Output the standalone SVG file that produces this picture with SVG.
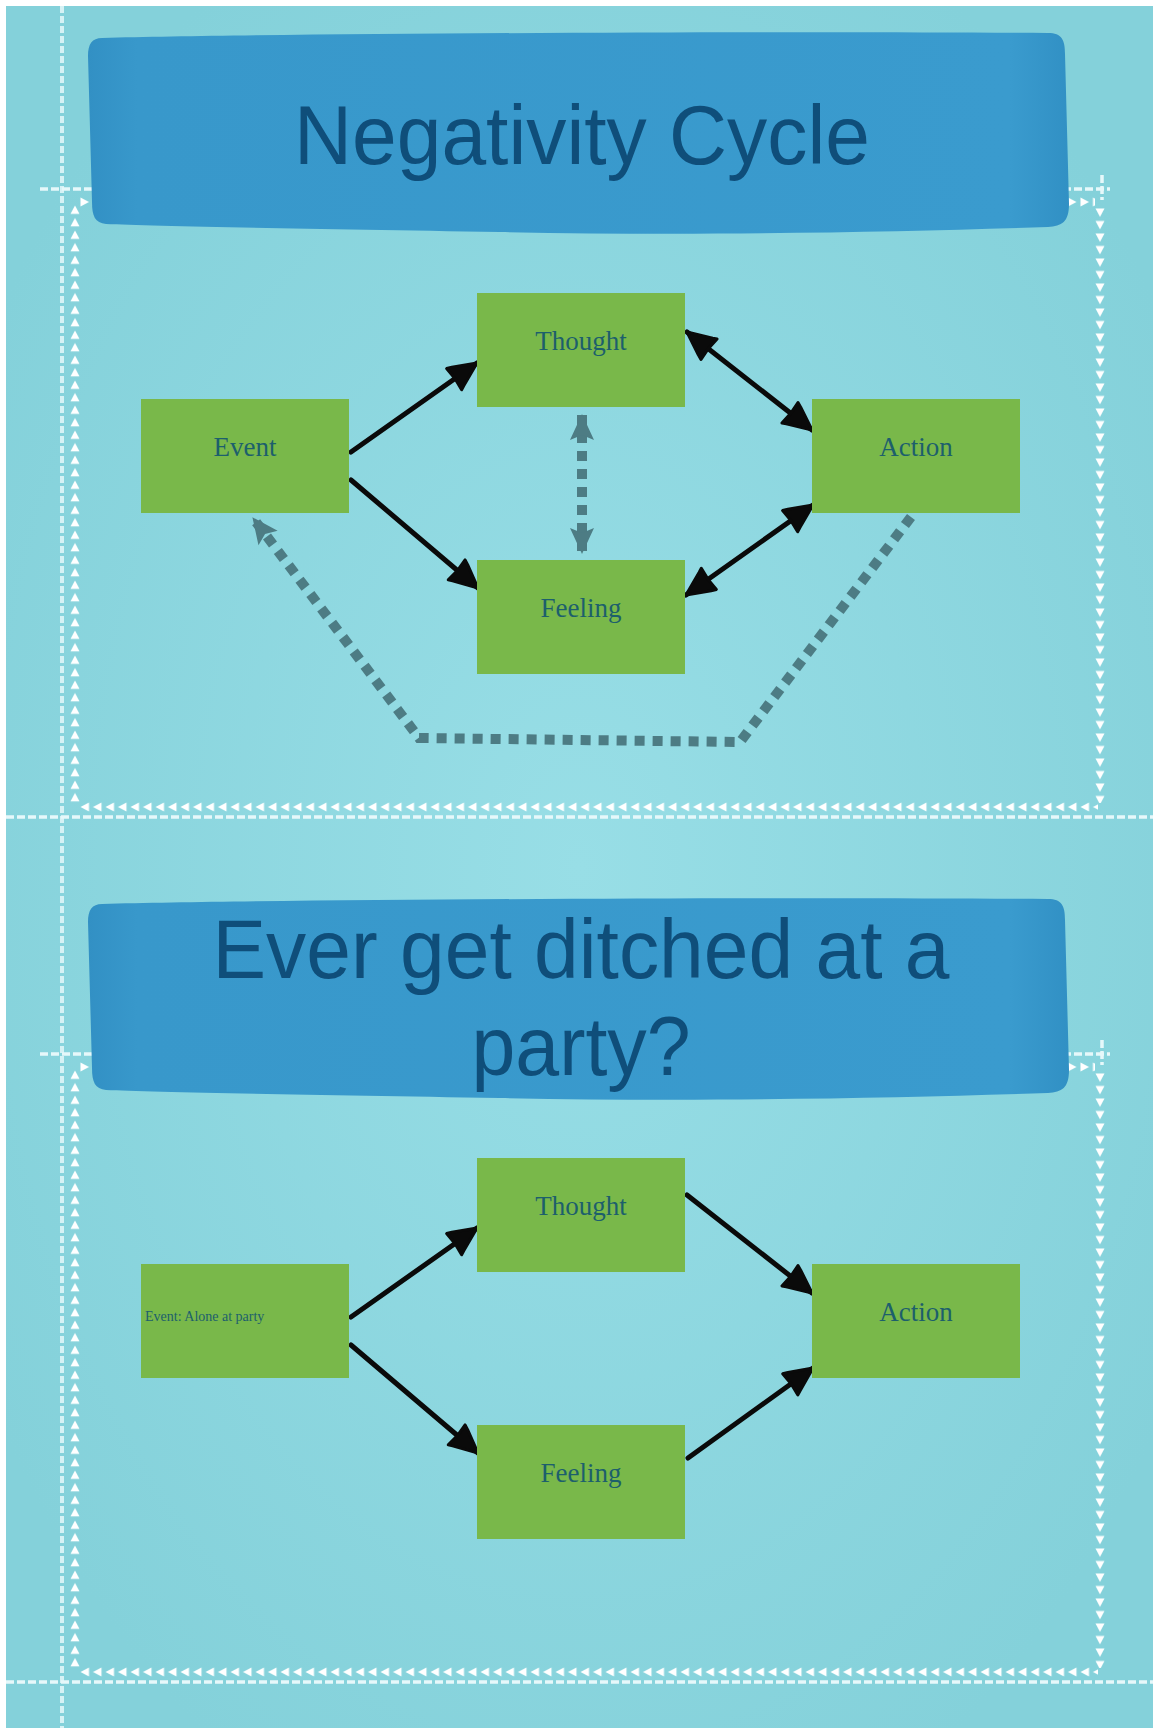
<svg xmlns="http://www.w3.org/2000/svg" xmlns:xlink="http://www.w3.org/1999/xlink" width="1153" height="1728" viewBox="0 0 1153 1728">
  <style>
    .node rect { fill: #79b84a; }
    .label { font-family: "Liberation Serif", "Times New Roman", serif; font-size: 27px; fill: #1d5f6c; text-anchor: middle; }
    .small { font-family: "Liberation Serif", "Times New Roman", serif; font-size: 14px; fill: #1d5f6c; }
    .title { font-family: "Liberation Sans", Arial, sans-serif; font-size: 84px; fill: #0f4e7a; text-anchor: middle; }
    .banner { fill: url(#bannerGrad); }
    .conn { fill: none; stroke: #0a0a0a; stroke-width: 5; stroke-linecap: round; }
    .dconn { fill: none; stroke: #4d7c84; stroke-width: 10; stroke-dasharray: 10 8; }
    .wdash { stroke: #e6f8fa; stroke-width: 3.5; stroke-dasharray: 8 3; fill: none; }
    .vdash { stroke: #d6f2f5; stroke-width: 4; stroke-dasharray: 7 3; fill: none; }
  </style>
  <defs>
    <radialGradient id="bgGrad" cx="0.5" cy="0.5" r="0.6">
      <stop offset="0" stop-color="#98dee6"/>
      <stop offset="1" stop-color="#84d1da"/>
    </radialGradient>
    <linearGradient id="bannerGrad" x1="0" y1="0" x2="1" y2="0">
      <stop offset="0" stop-color="#3290c4"/>
      <stop offset="0.05" stop-color="#3898cb"/>
      <stop offset="0.94" stop-color="#3a9bce"/>
      <stop offset="1" stop-color="#3190c4"/>
    </linearGradient>
    <pattern id="triL" patternUnits="userSpaceOnUse" x="80" y="802" width="12.5" height="10">
      <polygon points="0.5,5 9,0.5 9,9.5" fill="#ffffff"/>
    </pattern>
    <pattern id="triR" patternUnits="userSpaceOnUse" x="80" y="197" width="12.5" height="10">
      <polygon points="0.5,0.5 9,5 0.5,9.5" fill="#ffffff"/>
    </pattern>
    <pattern id="triU" patternUnits="userSpaceOnUse" x="70" y="205" width="10" height="12.5">
      <polygon points="5,0.5 9.5,9 0.5,9" fill="#ffffff"/>
    </pattern>
    <pattern id="triD" patternUnits="userSpaceOnUse" x="1095" y="208" width="10" height="12.5">
      <polygon points="0.5,0.5 9.5,0.5 5,9" fill="#ffffff"/>
    </pattern>
    <marker id="ah" markerUnits="userSpaceOnUse" viewBox="0 0 34 32" refX="31" refY="16" markerWidth="34" markerHeight="32" orient="auto-start-reverse">
      <path d="M3,3 L8,5 L31,16 L7,27 L3,29 L4,16 Z" fill="#0a0a0a" stroke="#0a0a0a" stroke-width="3" stroke-linejoin="round"/>
    </marker>
    <marker id="gh" markerUnits="userSpaceOnUse" viewBox="0 0 28 26" refX="26" refY="13" markerWidth="28" markerHeight="26" orient="auto-start-reverse">
      <path d="M1,1 L27,13 L1,25 L6,13 Z" fill="#4d7c84"/>
    </marker>
  </defs>

  <!-- background -->
  <rect x="0" y="0" width="1153" height="1728" fill="#ffffff"/>
  <rect x="6" y="6" width="1147" height="1722" fill="url(#bgGrad)"/>

  <!-- page guide lines -->
  <g id="guides">
    <line class="vdash" x1="62" y1="6" x2="62" y2="1728"/>
    <line class="wdash" x1="6" y1="817" x2="1153" y2="817"/>
    <line class="wdash" x1="6" y1="1682" x2="1153" y2="1682"/>
  </g>

  <!-- frames -->
  <g id="frame-1">
    <line class="wdash" x1="40" y1="189" x2="1110" y2="189"/>
    <line class="wdash" x1="1102" y1="175" x2="1102" y2="200"/>
    <rect x="80" y="197" width="1015" height="10" fill="url(#triR)"/>
    <rect x="70" y="205" width="10" height="598" fill="url(#triU)"/>
    <rect x="1095" y="208" width="10" height="595" fill="url(#triD)"/>
    <rect x="80" y="802" width="1018" height="10" fill="url(#triL)"/>
  </g>
  <use id="frame-2" href="#frame-1" transform="translate(0,865)"/>

  <!-- banners -->
  <g id="banner-1">
    <path class="banner" d="M102 38 C300 33 800 31 1048 33 C1062 33 1065 40 1065 54 L1069 204 C1069 222 1062 226 1048 227 C900 232 700 236 500 232 C300 229 150 226 106 224 C95 223 92 216 92 202 L88 56 C88 44 92 38 102 38 Z"/>
    <text class="title" x="582" y="164" textLength="576" lengthAdjust="spacingAndGlyphs">Negativity Cycle</text>
  </g>
  <g id="banner-2">
    <path class="banner" transform="translate(0,866)" d="M102 38 C300 33 800 31 1048 33 C1062 33 1065 40 1065 54 L1069 204 C1069 222 1062 226 1048 227 C900 232 700 236 500 232 C300 229 150 226 106 224 C95 223 92 216 92 202 L88 56 C88 44 92 38 102 38 Z"/>
    <text class="title" x="581" y="978" textLength="737" lengthAdjust="spacingAndGlyphs">Ever get ditched at a</text>
    <text class="title" x="581" y="1075" textLength="219" lengthAdjust="spacingAndGlyphs">party?</text>
  </g>

  <!-- connectors -->
  <g id="connectors">
    <path class="conn" d="M351 452 L477 363" marker-end="url(#ah)"/>
    <path class="conn" d="M351 480 L478 588" marker-end="url(#ah)"/>
    <path class="conn" d="M687 332 L812 430" marker-start="url(#ah)" marker-end="url(#ah)"/>
    <path class="conn" d="M686 595 L813 505" marker-start="url(#ah)" marker-end="url(#ah)"/>
    <path class="dconn" d="M582 415 L582 553" marker-start="url(#gh)" marker-end="url(#gh)"/>
    <path class="dconn" d="M911 517 L740 742 L419 738 L253 518" marker-end="url(#gh)"/>

    <path class="conn" d="M351 1317 L477 1228" marker-end="url(#ah)"/>
    <path class="conn" d="M351 1345 L478 1453" marker-end="url(#ah)"/>
    <path class="conn" d="M687 1195 L812 1293" marker-end="url(#ah)"/>
    <path class="conn" d="M688 1458 L813 1368" marker-end="url(#ah)"/>
  </g>

  <!-- nodes, top diagram -->
  <g id="thought-1" class="node"><rect x="477" y="293" width="208" height="114"/><text class="label" x="581" y="350">Thought</text></g>
  <g id="event-1" class="node"><rect x="141" y="399" width="208" height="114"/><text class="label" x="245" y="456">Event</text></g>
  <g id="action-1" class="node"><rect x="812" y="399" width="208" height="114"/><text class="label" x="916" y="456">Action</text></g>
  <g id="feeling-1" class="node"><rect x="477" y="560" width="208" height="114"/><text class="label" x="581" y="617">Feeling</text></g>

  <!-- nodes, bottom diagram -->
  <g id="thought-2" class="node"><rect x="477" y="1158" width="208" height="114"/><text class="label" x="581" y="1215">Thought</text></g>
  <g id="event-2" class="node"><rect x="141" y="1264" width="208" height="114"/><text class="small" x="145" y="1321">Event: Alone at party</text></g>
  <g id="action-2" class="node"><rect x="812" y="1264" width="208" height="114"/><text class="label" x="916" y="1321">Action</text></g>
  <g id="feeling-2" class="node"><rect x="477" y="1425" width="208" height="114"/><text class="label" x="581" y="1482">Feeling</text></g>
</svg>
